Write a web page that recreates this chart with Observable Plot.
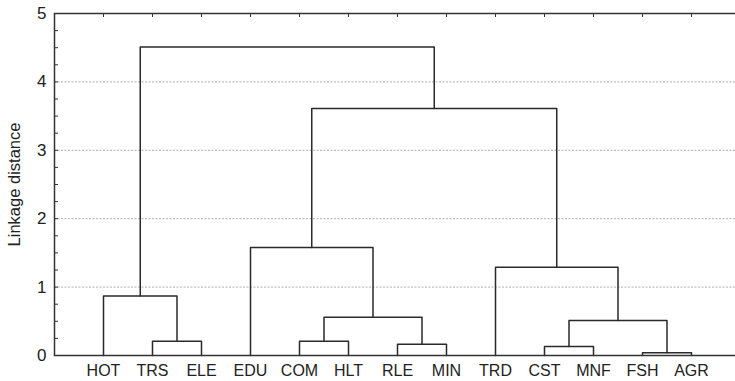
<!DOCTYPE html>
<html>
<head>
<meta charset="utf-8">
<script src="https://cdn.jsdelivr.net/npm/d3@7"></script>
<script src="https://cdn.jsdelivr.net/npm/@observablehq/plot@0.6"></script>
<style>
  html, body { margin: 0; padding: 0; background: #fff; overflow: hidden; }
  #chart { width: 735px; height: 381px; overflow: hidden; }
</style>
</head>
<body>
<div id="chart"></div>
<script>
// Leaves (in dendrogram order)
const leaves = ["HOT", "TRS", "ELE", "EDU", "COM", "HLT", "RLE", "MIN", "TRD", "CST", "MNF", "FSH", "AGR"];
// Merges: cluster ids c1..c12 in order
const mergeId     = ["c1",  "c2",  "c3",   "c4",  "c5",  "c6",  "c7",  "c8",  "c9",  "c10", "c11", "c12"];
const mergeLeft   = ["FSH", "CST", "RLE",  "TRS", "COM", "c2",  "c5",  "HOT", "TRD", "EDU", "c10", "c8"];
const mergeRight  = ["AGR", "MNF", "MIN",  "ELE", "HLT", "c1",  "c3",  "c4",  "c6",  "c7",  "c9",  "c11"];
const mergeHeight = [0.04,  0.13,  0.165,  0.21,  0.21,  0.51,  0.56,  0.87,  1.29,  1.58,  3.61,  4.51];
const yLabels = [0, 1, 2, 3, 4, 5];
const gridValues = [1, 2, 3, 4];
const yTitle = "Linkage distance";

// node positions: leaves by index, clusters by mean of children
const pos = new Map(leaves.map((d, i) => [d, {x: i, y: 0}]));
const segs = [];
mergeId.forEach((id, k) => {
  const a = pos.get(mergeLeft[k]), b = pos.get(mergeRight[k]), h = mergeHeight[k];
  segs.push({id, x: a.x, y: a.y}, {id, x: a.x, y: h}, {id, x: b.x, y: h}, {id, x: b.x, y: b.y});
  pos.set(id, {x: (a.x + b.x) / 2, y: h});
});

const font = "'Liberation Sans', Arial, Helvetica, sans-serif";
const ink = "#222";

const plot = Plot.plot({
  width: 735,
  height: 381,
  marginLeft: 54,
  marginRight: -5,
  marginTop: 13,
  marginBottom: 26,
  style: {fontFamily: font, fontSize: "16px", color: ink, background: "#fff"},
  x: {type: "linear", domain: [-1, leaves.length]},
  y: {domain: [0, 5]},
  marks: [
    Plot.gridY(gridValues, {stroke: "#9a9a9a", strokeOpacity: 1, strokeDasharray: "2,1.5", strokeWidth: 0.8}),
    Plot.line(segs, {x: "x", y: "y", z: "id", stroke: "#2a2a2a", strokeWidth: 1.5, curve: "linear"}),
    Plot.frame({stroke: "#333", strokeWidth: 1.5}),
    Plot.axisY(d3.range(0, 5.001, 0.25), {anchor: "left", tickSize: 4, dx: 4, tickFormat: () => "", label: null, stroke: "#333"}),
    Plot.axisY(yLabels, {anchor: "left", tickSize: 0, tickPadding: 8, tickFormat: d => String(d), fontSize: 17, label: null, fill: ink}),
    Plot.axisX(d3.range(leaves.length), {anchor: "top", tickSize: 3, dy: 3, tickFormat: () => "", label: null, stroke: "#333"}),
    Plot.axisX(d3.range(leaves.length), {anchor: "bottom", tickSize: 0, tickPadding: 9, tickFormat: i => leaves[i], fontSize: 16, label: null, fill: ink}),
    Plot.text([yTitle], {text: d => d, frameAnchor: "left", textAnchor: "middle", lineAnchor: "middle", rotate: -90, dx: -40, fontSize: 16.5, fill: ink})
  ]
});
document.getElementById("chart").appendChild(plot);
</script>
</body>
</html>
